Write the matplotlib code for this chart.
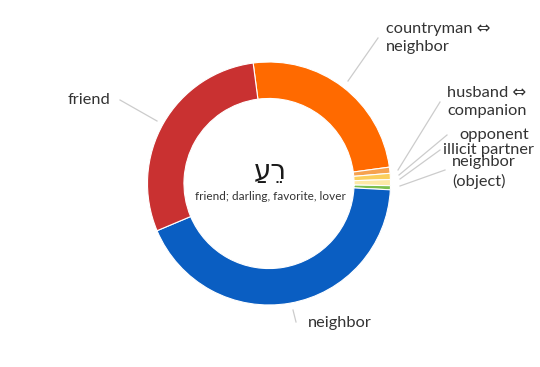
import matplotlib
matplotlib.use("Agg")
import matplotlib.pyplot as plt

# ---- data ----
categories = ["countryman \u21d4\nneighbor", "husband \u21d4\ncompanion", "opponent",
              "illicit partner", "neighbor\n(object)", "neighbor", "friend"]
values = [46, 1.5, 1.5, 1.5, 1, 79, 54]
colors = ["#ff6a00", "#f6a24f", "#fbcf5c", "#fde9a6", "#7cbf4e", "#0a5ec2", "#c93131"]
word = "\u05e8\u05b5\u05e2\u05b7"  # רֵעַ
gloss = "friend; darling, favorite, lover"

W, H = 540, 367
fig = plt.figure(figsize=(W / 100, H / 100), dpi=100)
ax = fig.add_axes([0, 0, 1, 1])

def P(x, y):
    return (x, H - y)

cx, cy = P(269, 183.5)
R = 121.5
ax.pie(values, colors=colors, startangle=97.5, counterclock=False,
       center=(cx, cy), radius=R,
       wedgeprops=dict(width=R * 0.3, edgecolor="white", linewidth=0.8))
ax.set_xlim(0, W)
ax.set_ylim(0, H)
ax.set_aspect("auto")
ax.axis("off")

fam = ["Lato", "DejaVu Sans"]
tc = "#333333"
lc = "#cccccc"

# label positions (text anchor, line start, line end) in pixel coords
labels = [
    (categories[0], (386, 38), "left", "center", (378, 38), (348, 81)),
    (categories[1], (447, 102), "left", "center", (440, 102), (398, 170)),
    (categories[2], (459, 135), "left", "center", (447, 135), (399, 175)),
    (categories[3], (443, 150), "left", "center", (440, 150), (400, 179)),
    (categories[4], (452, 172), "left", "center", (445, 170), (400, 186)),
    (categories[5], (340, 323), "center", "center", (293, 310), (296, 322)),
    (categories[6], (110, 100), "right", "center", (120, 100), (157, 121)),
]
for txt, pos, ha, va, a, b in labels:
    ax.plot([P(*a)[0], P(*b)[0]], [P(*a)[1], P(*b)[1]], color=lc, lw=0.9)
    ax.text(*P(*pos), txt, ha=ha, va=va, fontsize=11.8, color=tc, family=fam,
            linespacing=1.4)

# matplotlib lays text out left-to-right without shaping: reorder letter
# clusters for display and put each point before its letter
clusters = []
for ch in word:
    if clusters and 0x0591 <= ord(ch) <= 0x05C7:
        clusters[-1] = ch + clusters[-1]
    else:
        clusters.append(ch)
shown = "".join(reversed(clusters))
ax.text(*P(270, 171), shown, ha="center", va="center", fontsize=20,
        color="#1a1a1a", family=["DejaVu Sans"])
ax.text(*P(270, 197), gloss, ha="center", va="center", fontsize=8.5,
        color=tc, family=fam)

fig.savefig("out.png", dpi=100)
